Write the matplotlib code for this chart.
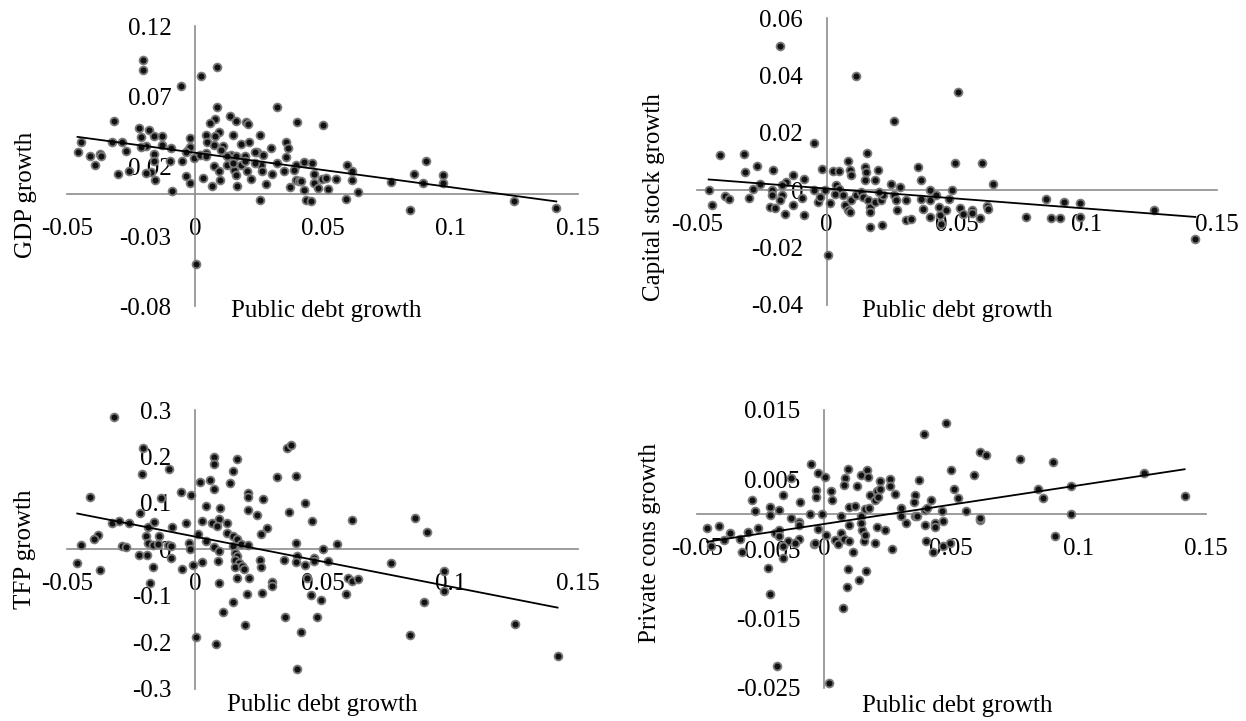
import matplotlib
matplotlib.use("Agg")
import matplotlib.pyplot as plt
from matplotlib.ticker import FixedLocator, FuncFormatter
import numpy as np

plt.rcParams['font.family'] = ['Liberation Serif', 'DejaVu Serif']

# x axis shared by all panels
x_ticks = [-0.05, 0, 0.05, 0.1, 0.15]

# GDP growth vs public debt growth
gdp_x = [-0.0205, -0.0202, 0.0088, 0.0023, -0.0054, 0.0085, 0.0320, -0.0316, 0.0137, 0.0162,
         0.0199, 0.0208, 0.0400, 0.0502, 0.0077, 0.0057, -0.0220, -0.0182, -0.0159, -0.0131,
         -0.0213, 0.0045, 0.0096, 0.0080, 0.0147, 0.0255, -0.0448, -0.0324, -0.0286, -0.0020,
         0.0049, 0.0073, 0.0111, 0.0181, 0.0211, 0.0356, 0.0366, 0.0299, -0.0094, -0.0131,
         -0.0190, -0.0213, -0.0460, -0.0410, -0.0372, -0.0367, -0.0390, -0.0270, -0.0162, -0.0028,
         -0.0005, 0.0042, 0.0103, 0.0142, 0.0162, 0.0242, 0.0265, 0.0356, 0.0394, 0.0427,
         0.0458, 0.0597, 0.0613, 0.0906, -0.0097, -0.0051, -0.0162, -0.0174, -0.0190, -0.0301,
         -0.0260, -0.0156, -0.0035, -0.0020, 0.0031, 0.0073, 0.0096, 0.0099, 0.0065, 0.0127,
         0.0154, 0.0160, 0.0165, 0.0180, 0.0204, 0.0219, 0.0258, 0.0261, 0.0278, 0.0301,
         0.0347, 0.0389, 0.0394, 0.0407, 0.0373, 0.0415, 0.0427, 0.0435, 0.0455, 0.0466,
         0.0466, 0.0481, 0.0497, 0.0512, 0.0520, 0.0554, 0.0613, 0.0590, 0.0639, 0.0767,
         0.0857, 0.0894, 0.0971, 0.0971, 0.0841, 0.1250, 0.1415, 0.0253, 0.0003, -0.0090,
         0.0018, 0.0042, 0.0127, 0.0150, 0.0195, 0.0235, 0.0195, 0.0235, 0.0320, -0.0020,
         -0.0035]
gdp_y = [0.0961, 0.0889, 0.0906, 0.0846, 0.0770, 0.0627, 0.0623, 0.0527, 0.0560, 0.0520,
         0.0513, 0.0504, 0.0516, 0.0496, 0.0540, 0.0510, 0.0473, 0.0460, 0.0413, 0.0413,
         0.0406, 0.0425, 0.0442, 0.0413, 0.0420, 0.0425, 0.0377, 0.0370, 0.0377, 0.0401,
         0.0377, 0.0354, 0.0346, 0.0361, 0.0377, 0.0377, 0.0330, 0.0330, 0.0332, 0.0349,
         0.0342, 0.0337, 0.0299, 0.0270, 0.0290, 0.0270, 0.0206, 0.0306, 0.0287, 0.0318,
         0.0258, 0.0294, 0.0313, 0.0282, 0.0270, 0.0299, 0.0282, 0.0263, 0.0210, 0.0230,
         0.0223, 0.0206, 0.0168, 0.0235, 0.0235, 0.0235, 0.0235, 0.0156, 0.0151, 0.0144,
         0.0163, 0.0099, 0.0132, 0.0080, 0.0115, 0.0199, 0.0163, 0.0103, 0.0056, 0.0210,
         0.0175, 0.0139, 0.0056, 0.0210, 0.0163, 0.0110, 0.0206, 0.0163, 0.0072, 0.0146,
         0.0168, 0.0175, 0.0103, 0.0096, 0.0049, 0.0092, 0.0032, -0.0039, -0.0051, 0.0144,
         0.0080, 0.0044, 0.0110, 0.0115, 0.0039, 0.0110, 0.0103, -0.0032, 0.0013, 0.0085,
         0.0146, 0.0080, 0.0139, 0.0080, -0.0110, -0.0051, -0.0099, -0.0044, -0.0497, 0.0025,
         0.0280, 0.0270, 0.0270, 0.0220, 0.0270, 0.0305, 0.0240, 0.0220, 0.0225, 0.0340,
         0.0305]
gdp_trend = [-0.246, 0.0297]  # slope, intercept
gdp_ticks = [0.12, 0.07, 0.02, -0.03, -0.08]

# Capital stock growth
cap_x = [-0.0180, 0.0114, 0.0506, 0.0258, -0.0050, -0.0409, -0.0320, 0.0155, 0.0082, 0.0495,
         0.0598, 0.0351, -0.0268, -0.0314, -0.0207, -0.0020, 0.0026, 0.0049, 0.0091, 0.0095,
         0.0148, 0.0151, 0.0198, 0.0186, 0.0148, 0.0247, 0.0282, 0.0361, 0.0640, -0.0130,
         -0.0088, -0.0157, -0.0256, -0.0284, -0.0454, -0.0442, -0.0390, -0.0375, -0.0297, -0.0210,
         -0.0210, -0.0172, -0.0172, -0.0180, -0.0218, -0.0198, -0.0162, -0.0130, -0.0096, -0.0088,
         -0.0050, -0.0035, -0.0027, 0.0011, -0.0005, 0.0034, 0.0046, 0.0030, 0.0064, 0.0072,
         0.0082, 0.0091, 0.0095, 0.0113, 0.0133, 0.0140, 0.0159, 0.0168, 0.0166, 0.0186,
         0.0209, 0.0216, 0.0201, 0.0166, 0.0212, 0.0259, 0.0267, 0.0270, 0.0305, 0.0305,
         0.0323, 0.0361, 0.0372, 0.0399, 0.0399, 0.0396, 0.0422, 0.0430, 0.0434, 0.0438,
         0.0460, 0.0471, 0.0483, 0.0514, 0.0524, 0.0559, 0.0559, 0.0590, 0.0616, 0.0620,
         0.0768, 0.0845, 0.0864, 0.0898, 0.0913, 0.0974, 0.0974, 0.1260, 0.1418, 0.0006]
cap_y = [0.0504, 0.0398, 0.0344, 0.0243, 0.0166, 0.0124, 0.0128, 0.0131, 0.0101, 0.0096,
         0.0096, 0.0081, 0.0083, 0.0064, 0.0070, 0.0073, 0.0067, 0.0067, 0.0070, 0.0052,
         0.0081, 0.0064, 0.0072, 0.0037, 0.0035, 0.0023, 0.0012, 0.0035, 0.0023, 0.0052,
         0.0041, 0.0029, 0.0023, 0.0006, 0.0000, -0.0052, -0.0020, -0.0029, -0.0027, 0.0000,
         -0.0017, 0.0018, -0.0017, -0.0035, -0.0058, -0.0061, -0.0081, -0.0052, -0.0027, -0.0087,
         0.0000, -0.0041, -0.0023, -0.0046, 0.0000, 0.0017, 0.0006, -0.0012, -0.0017, -0.0052,
         -0.0070, -0.0075, -0.0035, -0.0017, -0.0006, -0.0023, -0.0035, -0.0058, -0.0075, -0.0041,
         -0.0035, -0.0017, -0.0006, -0.0128, -0.0122, -0.0017, -0.0035, -0.0070, -0.0035, -0.0104,
         -0.0099, -0.0029, -0.0064, 0.0000, -0.0035, -0.0093, -0.0017, -0.0058, -0.0087, -0.0116,
         -0.0070, -0.0029, 0.0000, -0.0061, -0.0081, -0.0070, -0.0078, -0.0096, -0.0054, -0.0064,
         -0.0093, -0.0032, -0.0095, -0.0095, -0.0041, -0.0046, -0.0093, -0.0070, -0.0170, -0.0226]
cap_trend = [-0.0698, 0.0006]
cap_ticks = [0.06, 0.04, 0.02, 0, -0.02, -0.04]

# TFP growth
tfp_x = [-0.0317, -0.0203, 0.0359, 0.0375, 0.0076, 0.0076, 0.0163, -0.0101, 0.0147, -0.0209,
         0.0320, 0.0395, 0.0019, 0.0057, 0.0138, 0.0076, -0.0054, -0.0017, 0.0207, 0.0207,
         0.0266, -0.0410, -0.0132, 0.0429, 0.0042, 0.0099, 0.0209, 0.0367, 0.0243, -0.0214,
         0.0096, 0.0029, 0.0065, 0.0085, 0.0127, 0.0460, 0.0615, 0.0862, 0.0909, -0.0325,
         -0.0299, -0.0260, -0.0159, -0.0036, -0.0090, -0.0183, -0.0141, -0.0190, -0.0379, -0.0395,
         -0.0446, -0.0286, -0.0271, -0.0221, -0.0187, -0.0183, -0.0163, -0.0144, -0.0105, -0.0094,
         -0.0094, -0.0163, -0.0175, -0.0051, -0.0023, -0.0020, -0.0009, 0.0011, 0.0026, 0.0045,
         0.0073, 0.0096, 0.0091, 0.0127, 0.0150, 0.0166, 0.0181, 0.0209, 0.0147, 0.0158,
         0.0163, 0.0155, 0.0173, 0.0158, 0.0184, 0.0193, 0.0163, 0.0212, 0.0096, 0.0254,
         0.0258, 0.0258, 0.0282, 0.0302, 0.0302, 0.0262, 0.0204, 0.0147, 0.0111, 0.0197,
         0.0084, 0.0003, 0.0348, 0.0395, 0.0398, 0.0395, 0.0429, 0.0467, 0.0467, 0.0503,
         0.0522, 0.0556, 0.0437, 0.0455, 0.0494, 0.0478, 0.0354, 0.0416, 0.0401, 0.0599,
         0.0615, 0.0638, 0.0591, 0.0769, 0.0844, 0.0898, 0.0974, 0.0974, 0.1254, 0.1420,
         -0.0461, -0.0372]
tfp_y = [0.285, 0.219, 0.219, 0.224, 0.199, 0.183, 0.194, 0.174, 0.169, 0.162,
         0.156, 0.158, 0.145, 0.149, 0.142, 0.131, 0.124, 0.118, 0.121, 0.113,
         0.109, 0.113, 0.111, 0.099, 0.093, 0.088, 0.085, 0.080, 0.073, 0.078,
         0.066, 0.061, 0.057, 0.050, 0.056, 0.061, 0.063, 0.068, 0.038, 0.056,
         0.062, 0.057, 0.059, 0.056, 0.047, 0.047, 0.029, 0.029, 0.030, 0.022,
         0.009, 0.007, 0.005, -0.012, -0.012, 0.014, 0.009, 0.011, 0.009, 0.007,
         -0.018, -0.039, -0.072, -0.043, 0.014, 0.000, -0.034, 0.034, -0.027, 0.018,
         0.004, -0.004, -0.025, 0.036, 0.029, 0.022, 0.011, 0.009, 0.007, -0.007,
         -0.014, -0.022, -0.029, -0.039, -0.036, -0.042, -0.061, -0.061, -0.072, -0.022,
         -0.039, 0.034, 0.045, -0.070, -0.079, -0.095, -0.097, -0.113, -0.136, -0.163,
         -0.205, -0.188, -0.023, 0.013, -0.014, -0.027, -0.034, -0.018, -0.025, 0.000,
         -0.025, 0.011, -0.061, -0.099, -0.109, -0.145, -0.145, -0.179, -0.257, -0.061,
         -0.068, -0.065, -0.097, -0.030, -0.185, -0.113, -0.047, -0.090, -0.160, -0.230,
         -0.030, -0.045]
tfp_trend = [-1.078, 0.0274]
tfp_ticks = [0.3, 0.2, 0.1, 0, -0.1, -0.2, -0.3]

# Private consumption growth
cons_x = [0.0478, 0.0392, 0.0614, 0.0638, 0.0770, 0.0898, 0.1258, 0.1416, 0.0970, 0.0970,
          0.0841, 0.0861, 0.0908, -0.0053, -0.0023, 0.0005, -0.0128, 0.0094, 0.0145, 0.0169,
          0.0172, 0.0130, 0.0083, 0.0078, 0.0219, 0.0258, 0.0258, 0.0278, 0.0372, 0.0500,
          0.0588, 0.0512, 0.0525, -0.0030, -0.0030, 0.0028, 0.0031, -0.0163, -0.0284, -0.0272,
          -0.0214, -0.0214, -0.0178, -0.0094, -0.0131, -0.0100, -0.0100, -0.0056, -0.0008, 0.0067,
          0.0098, 0.0122, 0.0145, 0.0161, 0.0177, 0.0181, 0.0200, 0.0208, 0.0213, 0.0219,
          0.0302, 0.0322, 0.0302, 0.0356, 0.0353, 0.0356, 0.0364, 0.0395, 0.0403, 0.0419,
          0.0395, 0.0434, 0.0434, 0.0469, 0.0463, 0.0400, 0.0427, 0.0466, 0.0494, 0.0556,
          0.0614, 0.0614, -0.0459, -0.0413, -0.0391, -0.0370, -0.0331, -0.0323, -0.0300, -0.0261,
          -0.0444, -0.0191, -0.0175, -0.0175, -0.0141, -0.0163, -0.0163, -0.0219, -0.0211, -0.0183,
          -0.0097, -0.0113, -0.0039, -0.0022, 0.0009, 0.0044, 0.0056, 0.0067, 0.0078, 0.0098,
          0.0098, 0.0114, 0.0150, 0.0156, 0.0161, 0.0145, 0.0200, 0.0208, 0.0239, 0.0267,
          0.0094, 0.0166, 0.0138, 0.0091, 0.0075, 0.0020, -0.0034]
cons_y = [0.0132, 0.0115, 0.0090, 0.0085, 0.0079, 0.0075, 0.0059, 0.0026, 0.0040, 0.0001,
          0.0036, 0.0023, -0.0031, 0.0072, 0.0059, 0.0054, 0.0052, 0.0065, 0.0057, 0.0064,
          0.0053, 0.0041, 0.0052, 0.0042, 0.0048, 0.0051, 0.0040, 0.0029, 0.0050, 0.0064,
          0.0057, 0.0036, 0.0024, 0.0035, 0.0025, 0.0033, 0.0021, 0.0028, 0.0021, 0.0004,
          0.0010, -0.0001, 0.0006, 0.0018, -0.0006, -0.0011, -0.0015, 0.0000, 0.0000, -0.0003,
          0.0011, 0.0012, -0.0003, 0.0007, 0.0009, 0.0028, 0.0021, 0.0033, 0.0025, 0.0037,
          0.0009, -0.0013, -0.0003, 0.0028, 0.0017, -0.0002, -0.0003, 0.0006, 0.0009, 0.0020,
          -0.0015, -0.0012, -0.0019, -0.0009, 0.0004, -0.0039, -0.0055, -0.0046, -0.0042, 0.0004,
          -0.0008, -0.0006, -0.0020, -0.0017, -0.0037, -0.0027, -0.0035, -0.0054, -0.0025, -0.0020,
          -0.0046, -0.0027, -0.0023, -0.0032, -0.0039, -0.0046, -0.0063, -0.0078, -0.0115, -0.0218,
          -0.0035, -0.0041, -0.0043, -0.0021, -0.0030, -0.0037, -0.0043, -0.0027, -0.0035, -0.0039,
          -0.0015, -0.0055, -0.0023, -0.0038, -0.0030, -0.0013, -0.0042, -0.0018, -0.0023, -0.0050,
          -0.0079, -0.0082, -0.0094, -0.0104, -0.0135, -0.0243, -0.0042]
cons_trend = [0.0556, -0.0014]
cons_ticks = [0.015, 0.005, -0.005, -0.015, -0.025]

W, H = 1246, 721


def frac_rect(left, top, right, bottom):
    # pixel box (top-left origin) -> figure fraction rect
    return [left / W, 1 - bottom / H, (right - left) / W, (bottom - top) / H]


def draw_panel(fig, rect, xs, ys, trend, yticks, ylabel, ylab_pos, xlab_pos):
    ax = fig.add_axes(rect)
    ax.set_xlim(-0.05, 0.15)
    ax.set_ylim(min(yticks), max(yticks))
    for side in ['top', 'right']:
        ax.spines[side].set_visible(False)
    ax.spines['left'].set_position(('data', 0))
    ax.spines['bottom'].set_position(('data', 0))
    for side in ['left', 'bottom']:
        ax.spines[side].set_color('#8c8c8c')
        ax.spines[side].set_linewidth(1.2)
    ax.xaxis.set_major_locator(FixedLocator(x_ticks))
    ax.yaxis.set_major_locator(FixedLocator(yticks))
    fmt = FuncFormatter(lambda v, p: '%g' % round(v, 4))
    ax.xaxis.set_major_formatter(fmt)
    ax.yaxis.set_major_formatter(fmt)
    ax.tick_params(axis='x', length=0, pad=17, labelsize=18)
    ax.tick_params(axis='y', length=0, pad=17, labelsize=18)

    ax.scatter(xs, ys, s=32, c='#111111', edgecolors='#7a7a7a', linewidths=1.3,
               zorder=3, clip_on=False)
    tx = np.array([min(xs), max(xs)])
    ax.plot(tx, np.polyval(trend, tx), color='black', lw=1.3, zorder=4)

    fig.text(ylab_pos[0] / W, 1 - ylab_pos[1] / H, ylabel, rotation=90,
             ha='center', va='center', fontsize=18)
    fig.text(xlab_pos[0] / W, 1 - xlab_pos[1] / H, 'Public debt growth',
             ha='center', va='center', fontsize=18)
    return ax


fig = plt.figure(figsize=(W / 100, H / 100), dpi=100)

draw_panel(fig, frac_rect(67.3, 26.3, 578, 306.3), gdp_x, gdp_y, gdp_trend, gdp_ticks,
           'GDP growth', (26, 195), (326, 311))
draw_panel(fig, frac_rect(696.7, 18.2, 1216.7, 305), cap_x, cap_y, cap_trend, cap_ticks,
           'Capital stock growth', (654, 197), (957, 311))
draw_panel(fig, frac_rect(67.3, 410.1, 578, 688.5), tfp_x, tfp_y, tfp_trend, tfp_ticks,
           'TFP growth', (25, 549), (322, 705))
draw_panel(fig, frac_rect(696.7, 410, 1206, 688), cons_x, cons_y, cons_trend, cons_ticks,
           'Private cons growth', (650, 543), (957, 706))

fig.savefig('out.png', dpi=100)
